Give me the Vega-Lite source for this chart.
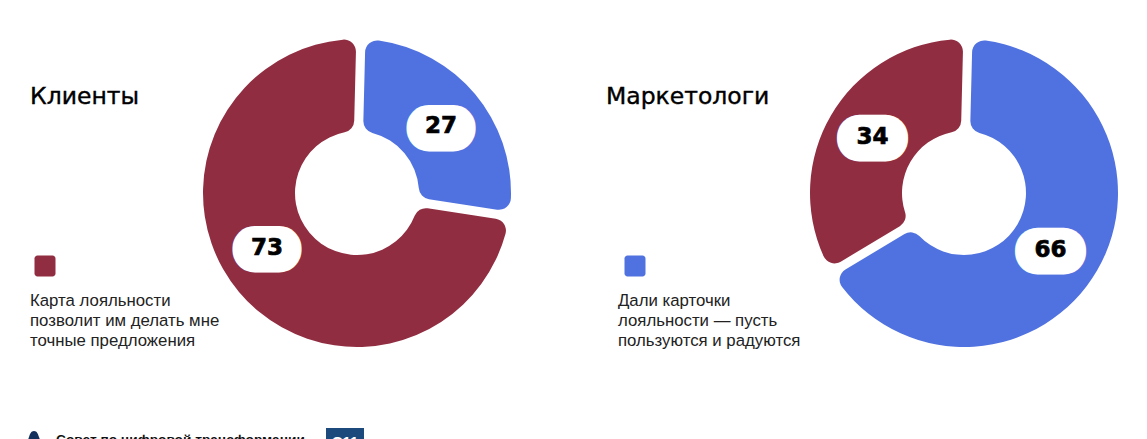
{
 "$schema":"https://vega.github.io/schema/vega-lite/v6.json",
 "width":1147,"height":439,"padding":0,"autosize":{"type":"none"},"background":"white",
 "config":{"view":{"stroke":null}},
 "datasets":{
  "seg":[
   {"group":"Клиенты","segment":"Дали карточки","value":27,"ord":1},
   {"group":"Клиенты","segment":"Карта","value":73,"ord":2},
   {"group":"Маркетологи","segment":"Дали карточки","value":66,"ord":1},
   {"group":"Маркетологи","segment":"Карта","value":34,"ord":2}
  ],
  "lines":[
   {"group":"Клиенты","line":1,"text":"Карта лояльности"},
   {"group":"Клиенты","line":2,"text":"позволит им делать мне"},
   {"group":"Клиенты","line":3,"text":"точные предложения"},
   {"group":"Маркетологи","line":1,"text":"Дали карточки"},
   {"group":"Маркетологи","line":2,"text":"лояльности — пусть"},
   {"group":"Маркетологи","line":3,"text":"пользуются и радуются"}
  ],
  "groups":[
   {"group":"Клиенты","segment":"Карта"},
   {"group":"Маркетологи","segment":"Дали карточки"}
  ],
  "footer":[{"source":"Совет по цифровой трансформации","code":"С11"}]
 },
 "layer":[
  {"data":{"name":"seg"},
   "encoding":{
    "x":{"field":"group","type":"nominal","axis":null,"scale":{"type":"point","padding":0,"domain":["Клиенты","Маркетологи"],"range":[357,964]}},
    "y":{"field":"group","type":"nominal","axis":null,"scale":{"type":"point","padding":0,"domain":["Клиенты","Маркетологи"],"range":[193,193]}},
    "theta":{"field":"value","type":"quantitative","stack":true,"scale":{"domain":[0,100],"range":[0.025,6.308]}},
    "order":{"field":"ord","type":"ordinal"},
    "detail":{"field":"segment"}
   },
   "layer":[
    {"transform":[{"filter":"datum.group==='Клиенты'"}],
     "layer":[
      {"mark":{"type":"arc","outerRadius":154,"innerRadius":62,"cornerRadius":12,"padAngle":0.055},
       "encoding":{"color":{"field":"segment","type":"nominal","legend":null,"scale":{"domain":["Карта","Дали карточки"],"range":["#912d41","#5072e0"]}}}},
      {"mark":{"type":"text","radius":107,"fill":"white","stroke":"white","strokeWidth":45,"strokeJoin":"round","font":"Liberation Sans","fontSize":24,"baseline":"middle","dx":{"expr":"datum.value===73?-8:2"},"dy":{"expr":"datum.value===73?-14:3"}},
       "encoding":{"text":{"value":"—"}}},
      {"mark":{"type":"text","radius":107,"fill":"black","stroke":"black","strokeWidth":0.7,"font":"DejaVu Sans","fontWeight":"bold","fontSize":23,"baseline":"middle","dx":{"expr":"datum.value===73?-8:2"},"dy":{"expr":"datum.value===73?-14:2"}},
       "encoding":{"text":{"field":"value","type":"quantitative"}}}
     ]},
    {"transform":[{"filter":"datum.group==='Маркетологи'"}],
     "layer":[
      {"mark":{"type":"arc","outerRadius":154,"innerRadius":62,"cornerRadius":12,"padAngle":0.055},
       "encoding":{"color":{"field":"segment","type":"nominal","legend":null,"scale":{"domain":["Карта","Дали карточки"],"range":["#912d41","#5072e0"]}}}},
      {"mark":{"type":"text","radius":107,"fill":"white","stroke":"white","strokeWidth":45,"strokeJoin":"round","font":"Liberation Sans","fontSize":26,"baseline":"middle","dx":{"expr":"datum.value===66?-6:1"},"dy":{"expr":"datum.value===66?3:-2"}},
       "encoding":{"text":{"value":"—"}}},
      {"mark":{"type":"text","radius":107,"fill":"black","stroke":"black","strokeWidth":0.7,"font":"DejaVu Sans","fontWeight":"bold","fontSize":23,"baseline":"middle","dx":{"expr":"datum.value===66?-6:1"},"dy":{"expr":"datum.value===66?3:-2"}},
       "encoding":{"text":{"field":"value","type":"quantitative"}}}
     ]}
   ]},
  {"data":{"name":"groups"},
   "mark":{"type":"text","align":"left","baseline":"middle","font":"DejaVu Sans","fontSize":23.5,"fill":"black","stroke":"black","strokeWidth":0.4},
   "encoding":{
    "x":{"field":"group","type":"nominal","axis":null,"scale":{"type":"point","padding":0,"domain":["Клиенты","Маркетологи"],"range":[30,606]}},
    "y":{"field":"group","type":"nominal","axis":null,"scale":{"type":"point","padding":0,"domain":["Клиенты","Маркетологи"],"range":[97,97]}},
    "text":{"field":"group"}
   }},
  {"data":{"name":"groups"},
   "mark":{"type":"rect","width":21,"height":21,"cornerRadius":3},
   "encoding":{
    "x":{"field":"group","type":"nominal","axis":null,"scale":{"type":"point","padding":0,"domain":["Клиенты","Маркетологи"],"range":[45,635]}},
    "y":{"field":"group","type":"nominal","axis":null,"scale":{"type":"point","padding":0,"domain":["Клиенты","Маркетологи"],"range":[266,266]}},
    "color":{"field":"segment","type":"nominal","legend":null,"scale":{"domain":["Карта","Дали карточки"],"range":["#912d41","#5072e0"]}}
   }},
  {"data":{"name":"lines"},
   "mark":{"type":"text","align":"left","baseline":"middle","font":"Liberation Sans","fontSize":16.8,"fill":"#222222"},
   "encoding":{
    "x":{"field":"group","type":"nominal","axis":null,"scale":{"type":"point","padding":0,"domain":["Клиенты","Маркетологи"],"range":[30,618]}},
    "y":{"field":"line","type":"ordinal","axis":null,"scale":{"type":"point","padding":0,"domain":[1,2,3],"range":[301,341]}},
    "text":{"field":"text"}
   }},
  {"data":{"name":"footer"},
   "mark":{"type":"text","align":"left","baseline":"top","font":"Liberation Sans","fontWeight":"bold","fontSize":13.7,"fill":"#111111"},
   "encoding":{
    "x":{"field":"source","type":"nominal","axis":null,"scale":{"type":"point","padding":0,"range":[56,56]}},
    "y":{"field":"source","type":"nominal","axis":null,"scale":{"type":"point","padding":0,"range":[433,433]}},
    "text":{"field":"source"}
   }},
  {"data":{"name":"footer"},
   "mark":{"type":"rect","width":38,"height":22,"color":"#1c4a7c"},
   "encoding":{
    "x":{"field":"code","type":"nominal","axis":null,"scale":{"type":"point","padding":0,"range":[345,345]}},
    "y":{"field":"code","type":"nominal","axis":null,"scale":{"type":"point","padding":0,"range":[439,439]}}
   }},
  {"data":{"name":"footer"},
   "mark":{"type":"text","align":"center","baseline":"top","font":"Liberation Sans","fontWeight":"bold","fontSize":15,"fill":"white"},
   "encoding":{
    "x":{"field":"code","type":"nominal","axis":null,"scale":{"type":"point","padding":0,"range":[345,345]}},
    "y":{"field":"code","type":"nominal","axis":null,"scale":{"type":"point","padding":0,"range":[435,435]}},
    "text":{"field":"code"}
   }},
  {"data":{"name":"footer"},
   "mark":{"type":"point","shape":"M0,-1 C0.3,-1 0.4,-0.7 0.5,-0.4 L1,1 L-1,1 L-0.5,-0.4 C-0.4,-0.7 -0.3,-1 0,-1Z","filled":true,"size":400,"color":"#14305c","opacity":1},
   "encoding":{
    "x":{"field":"code","type":"nominal","axis":null,"scale":{"type":"point","padding":0,"range":[34,34]}},
    "y":{"field":"code","type":"nominal","axis":null,"scale":{"type":"point","padding":0,"range":[441,441]}}
   }}
 ],
 "resolve":{"scale":{"x":"independent","y":"independent","color":"shared"}}
}
